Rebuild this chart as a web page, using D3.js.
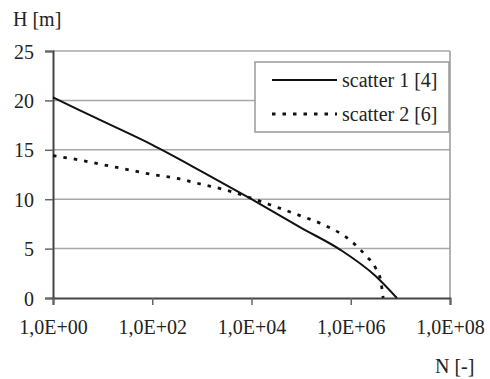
<!DOCTYPE html>
<html>
<head>
<meta charset="utf-8">
<script src="https://cdn.jsdelivr.net/npm/d3@7"></script>
<style>
  body { margin: 0; background: #fff; }
</style>
</head>
<body>
<div id="chart"></div>
<script>
// scatter 1 [4]
const n1 = [1, 10, 100, 1000, 1e4, 1e5, 6.3e5, 3.2e6, 8.5e6];
const h1 = [20.3, 17.9, 15.5, 12.8, 10.0, 7.1, 4.85, 2.2, 0];
// scatter 2 [6]
const n2 = [1, 3.2, 10, 32, 100, 320, 1000, 3200, 1e4, 3.2e4, 1e5, 3.2e5, 1e6, 2e6, 3.2e6, 4e6, 4.5e6];
const h2 = [14.4, 14.0, 13.5, 13.0, 12.5, 12.1, 11.5, 10.9, 10.1, 9.2, 8.3, 7.3, 5.8, 4.3, 3.0, 1.8, 0];

const xTicks = [1, 1e2, 1e4, 1e6, 1e8];
const xTickLabels = ["1,0E+00", "1,0E+02", "1,0E+04", "1,0E+06", "1,0E+08"];
const yTicks = [0, 5, 10, 15, 20, 25];
const seriesNames = ["scatter 1 [4]", "scatter 2 [6]"];

const width = 490, height = 379;
const margin = {top: 51, right: 40, bottom: 81, left: 53};
const font = "Tinos, 'Liberation Serif', 'Times New Roman', 'DejaVu Serif', serif";

const svg = d3.select("#chart").append("svg")
	.attr("width", width)
	.attr("height", height)
	.attr("font-family", font);

const x = d3.scaleLog()
	.domain([1, 1e8])
	.range([margin.left, width - margin.right]);

const y = d3.scaleLinear()
	.domain([0, 25])
	.range([height - margin.bottom, margin.top]);

//grid lines
svg.append("g")
	.selectAll("line")
	.data(yTicks.filter(d => d > 0))
	.enter().append("line")
	.attr("x1", x(1)).attr("x2", x(1e8))
	.attr("y1", d => y(d)).attr("y2", d => y(d))
	.style("stroke", "#a8a8a8")
	.style("stroke-width", 1.5);

//right border
svg.append("line")
	.attr("x1", x(1e8)).attr("x2", x(1e8))
	.attr("y1", y(0)).attr("y2", y(25))
	.style("stroke", "#999")
	.style("stroke-width", 1.5);

//y axis
const yAxis = svg.append("g")
	.attr("transform", "translate(" + x(1) + ",0)")
	.call(d3.axisLeft(y).tickValues(yTicks).tickSize(8).tickPadding(11));

//x axis
const xAxis = svg.append("g")
	.attr("transform", "translate(0," + y(0) + ")")
	.call(d3.axisBottom(x).tickValues(xTicks).tickSize(7).tickPadding(15)
		.tickFormat((d, i) => xTickLabels[i]));

[xAxis, yAxis].forEach(a => {
	a.attr("font-family", font).attr("font-size", 20);
	a.select(".domain").style("stroke", "#444").style("stroke-width", 2);
	a.selectAll(".tick line").style("stroke", "#666").style("stroke-width", 1.5);
	a.selectAll("text").attr("fill", "#222");
});
yAxis.selectAll(".tick text").attr("dy", "0.35em");

//axis titles
svg.append("text")
	.attr("x", 13).attr("y", 26)
	.attr("font-size", 20)
	.attr("fill", "#222")
	.text("H [m]");

svg.append("text")
	.attr("x", 435).attr("y", 373)
	.attr("font-size", 20)
	.attr("fill", "#222")
	.text("N [-]");

//curves
const line = d3.line()
	.x(d => x(d[0]))
	.y(d => y(d[1]))
	.curve(d3.curveMonotoneX);

const series = [
	{pts: d3.zip(n1, h1), dash: null},
	{pts: d3.zip(n2, h2), dash: "3.5,7"}
];

svg.selectAll(".curve")
	.data(series)
	.enter().append("path")
	.attr("class", "curve")
	.attr("d", d => line(d.pts))
	.style("fill", "none")
	.style("stroke", "#111")
	.style("stroke-width", d => d.dash ? 2.8 : 2)
	.style("stroke-dasharray", d => d.dash);

//legend
const legend = svg.append("g");
legend.append("rect")
	.attr("x", 255).attr("y", 62)
	.attr("width", 194).attr("height", 70)
	.style("fill", "#fff")
	.style("stroke", "#999")
	.style("stroke-width", 1.5);

const rows = legend.selectAll(".row")
	.data(seriesNames)
	.enter().append("g")
	.attr("class", "row")
	.attr("transform", (d, i) => "translate(0," + (80 + i * 34) + ")");

rows.append("line")
	.attr("x1", 272).attr("x2", 337)
	.attr("y1", 0).attr("y2", 0)
	.style("stroke", "#111")
	.style("stroke-width", (d, i) => series[i].dash ? 2.8 : 2)
	.style("stroke-dasharray", (d, i) => series[i].dash);

rows.append("text")
	.attr("x", 342).attr("y", 0)
	.attr("dy", "0.35em")
	.attr("font-size", 20)
	.attr("fill", "#222")
	.text(d => d);
</script>
</body>
</html>
